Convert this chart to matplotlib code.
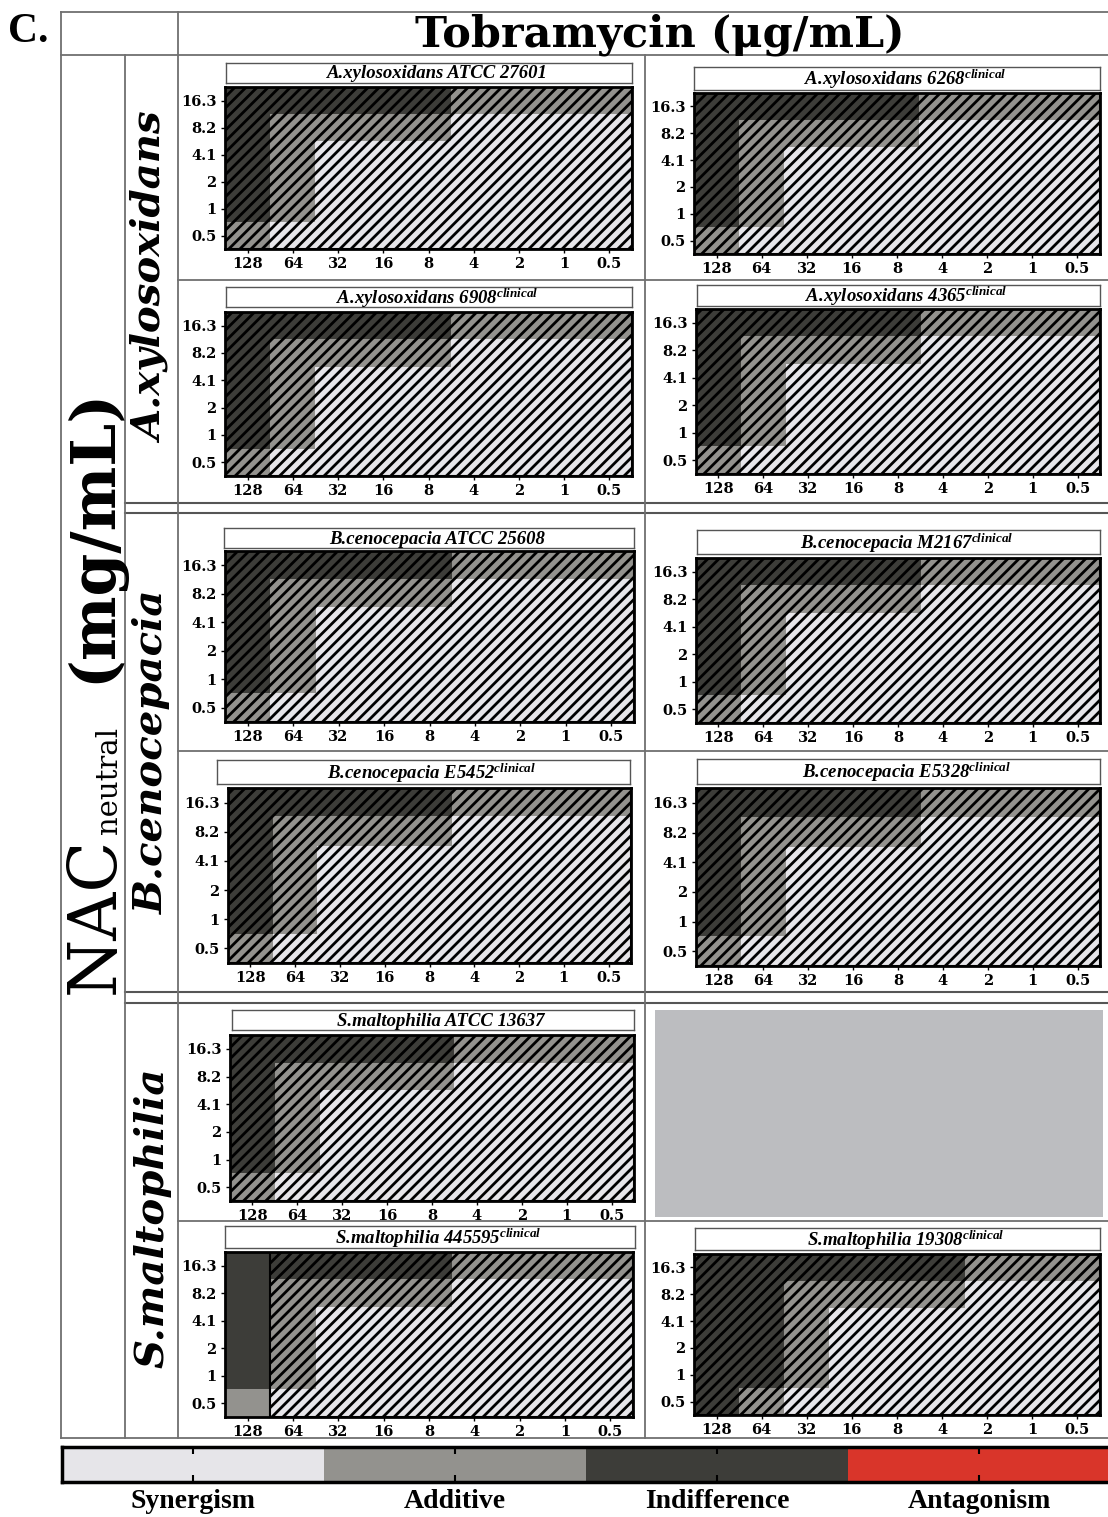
import matplotlib
matplotlib.use("Agg")
import matplotlib.pyplot as plt
from matplotlib.colors import ListedColormap, BoundaryNorm
from matplotlib.patches import Rectangle

# categories and colours of the interaction scale
categories = ["Synergism", "Additive", "Indifference", "Antagonism"]
cat_colors = ["#e6e5e9", "#93928e", "#3d3d39", "#d9352a"]

# axis tick labels
tob_ticks = ["128", "64", "32", "16", "8", "4", "2", "1", "0.5"]
nac_ticks = ["16.3", "8.2", "4.1", "2", "1", "0.5"]  # top row first

# 0 = synergism, 1 = additive, 2 = indifference, 3 = antagonism
# rows: NAC 16.3 (top) ... 0.5 (bottom); columns: tobramycin 128 ... 0.5
xyl_27601 = [[2, 2, 2, 2, 2, 1, 1, 1, 1],
             [2, 1, 1, 1, 1, 0, 0, 0, 0],
             [2, 1, 0, 0, 0, 0, 0, 0, 0],
             [2, 1, 0, 0, 0, 0, 0, 0, 0],
             [2, 1, 0, 0, 0, 0, 0, 0, 0],
             [1, 0, 0, 0, 0, 0, 0, 0, 0]]
xyl_6268 = [[2, 2, 2, 2, 2, 1, 1, 1, 1],
            [2, 1, 1, 1, 1, 0, 0, 0, 0],
            [2, 1, 0, 0, 0, 0, 0, 0, 0],
            [2, 1, 0, 0, 0, 0, 0, 0, 0],
            [2, 1, 0, 0, 0, 0, 0, 0, 0],
            [1, 0, 0, 0, 0, 0, 0, 0, 0]]
xyl_6908 = [[2, 2, 2, 2, 2, 1, 1, 1, 1],
            [2, 1, 1, 1, 1, 0, 0, 0, 0],
            [2, 1, 0, 0, 0, 0, 0, 0, 0],
            [2, 1, 0, 0, 0, 0, 0, 0, 0],
            [2, 1, 0, 0, 0, 0, 0, 0, 0],
            [1, 0, 0, 0, 0, 0, 0, 0, 0]]
xyl_4365 = [[2, 2, 2, 2, 2, 1, 1, 1, 1],
            [2, 1, 1, 1, 1, 0, 0, 0, 0],
            [2, 1, 0, 0, 0, 0, 0, 0, 0],
            [2, 1, 0, 0, 0, 0, 0, 0, 0],
            [2, 1, 0, 0, 0, 0, 0, 0, 0],
            [1, 0, 0, 0, 0, 0, 0, 0, 0]]
ceno_25608 = [[2, 2, 2, 2, 2, 1, 1, 1, 1],
              [2, 1, 1, 1, 1, 0, 0, 0, 0],
              [2, 1, 0, 0, 0, 0, 0, 0, 0],
              [2, 1, 0, 0, 0, 0, 0, 0, 0],
              [2, 1, 0, 0, 0, 0, 0, 0, 0],
              [1, 0, 0, 0, 0, 0, 0, 0, 0]]
ceno_m2167 = [[2, 2, 2, 2, 2, 1, 1, 1, 1],
              [2, 1, 1, 1, 1, 0, 0, 0, 0],
              [2, 1, 0, 0, 0, 0, 0, 0, 0],
              [2, 1, 0, 0, 0, 0, 0, 0, 0],
              [2, 1, 0, 0, 0, 0, 0, 0, 0],
              [1, 0, 0, 0, 0, 0, 0, 0, 0]]
ceno_e5452 = [[2, 2, 2, 2, 2, 1, 1, 1, 1],
              [2, 1, 1, 1, 1, 0, 0, 0, 0],
              [2, 1, 0, 0, 0, 0, 0, 0, 0],
              [2, 1, 0, 0, 0, 0, 0, 0, 0],
              [2, 1, 0, 0, 0, 0, 0, 0, 0],
              [1, 0, 0, 0, 0, 0, 0, 0, 0]]
ceno_e5328 = [[2, 2, 2, 2, 2, 1, 1, 1, 1],
              [2, 1, 1, 1, 1, 0, 0, 0, 0],
              [2, 1, 0, 0, 0, 0, 0, 0, 0],
              [2, 1, 0, 0, 0, 0, 0, 0, 0],
              [2, 1, 0, 0, 0, 0, 0, 0, 0],
              [1, 0, 0, 0, 0, 0, 0, 0, 0]]
malt_13637 = [[2, 2, 2, 2, 2, 1, 1, 1, 1],
              [2, 1, 1, 1, 1, 0, 0, 0, 0],
              [2, 1, 0, 0, 0, 0, 0, 0, 0],
              [2, 1, 0, 0, 0, 0, 0, 0, 0],
              [2, 1, 0, 0, 0, 0, 0, 0, 0],
              [1, 0, 0, 0, 0, 0, 0, 0, 0]]
malt_445595 = [[2, 2, 2, 2, 2, 1, 1, 1, 1],
               [2, 1, 1, 1, 1, 0, 0, 0, 0],
               [2, 1, 0, 0, 0, 0, 0, 0, 0],
               [2, 1, 0, 0, 0, 0, 0, 0, 0],
               [2, 1, 0, 0, 0, 0, 0, 0, 0],
               [1, 0, 0, 0, 0, 0, 0, 0, 0]]
malt_19308 = [[2, 2, 2, 2, 2, 2, 1, 1, 1],
              [2, 2, 1, 1, 1, 1, 0, 0, 0],
              [2, 2, 1, 0, 0, 0, 0, 0, 0],
              [2, 2, 1, 0, 0, 0, 0, 0, 0],
              [2, 2, 1, 0, 0, 0, 0, 0, 0],
              [2, 1, 0, 0, 0, 0, 0, 0, 0]]

strain_names = ["A.xylosoxidans ATCC 27601", "A.xylosoxidans 6268$^{clinical}$",
                "A.xylosoxidans 6908$^{clinical}$", "A.xylosoxidans 4365$^{clinical}$",
                "B.cenocepacia ATCC 25608", "B.cenocepacia M2167$^{clinical}$",
                "B.cenocepacia E5452$^{clinical}$", "B.cenocepacia E5328$^{clinical}$",
                "S.maltophilia ATCC 13637", "S.maltophilia 445595$^{clinical}$",
                "S.maltophilia 19308$^{clinical}$"]
grids = [xyl_27601, xyl_6268, xyl_6908, xyl_4365, ceno_25608, ceno_m2167,
         ceno_e5452, ceno_e5328, malt_13637, malt_445595, malt_19308]
hatch_start = [0, 0, 0, 0, 0, 0, 0, 0, 0, 1, 0]  # first hatched column

# layout in pixels: heatmap box and title box (x0, y0, x1, y1)
ax_boxes = [(225, 87, 632, 249), (694, 93, 1100, 254),
            (225, 312, 632, 476), (696, 309, 1100, 474),
            (225, 551, 634, 722), (696, 558, 1100, 723),
            (228, 788, 631, 963), (696, 788, 1100, 966),
            (230, 1035, 634, 1201), (225, 1252, 633, 1417),
            (694, 1254, 1100, 1415)]
title_boxes = [(226, 63, 632, 83), (694, 67, 1100, 90),
               (226, 287, 632, 307), (697, 285, 1100, 306),
               (224, 528, 634, 548), (697, 530, 1100, 554),
               (217, 760, 630, 784), (697, 759, 1100, 784),
               (232, 1010, 634, 1030), (225, 1226, 635, 1248),
               (695, 1228, 1100, 1250)]

plt.rcParams['hatch.linewidth'] = 2.0
plt.rcParams['mathtext.fontset'] = 'custom'
plt.rcParams['mathtext.rm'] = 'Liberation Serif'
plt.rcParams['mathtext.it'] = 'Liberation Serif:italic:bold'
plt.rcParams['mathtext.bf'] = 'Liberation Serif:bold'

W, H = 1108, 1517
fig = plt.figure(figsize=(W / 100, H / 100), dpi=100)


def rect(x0, y0, x1, y1):
    return [x0 / W, 1 - y1 / H, (x1 - x0) / W, (y1 - y0) / H]


cmap = ListedColormap(cat_colors)
norm = BoundaryNorm([-0.5, 0.5, 1.5, 2.5, 3.5], cmap.N)

# background table
bg = fig.add_axes([0, 0, 1, 1])
bg.set_xlim(0, W)
bg.set_ylim(H, 0)
bg.axis('off')
line_kw = dict(color='#707070', lw=1.3)
for y, x0 in [(12, 61), (55, 61), (1438, 61)]:
    bg.plot([x0, W], [y, y], **line_kw)
for y in [280, 751, 1221]:
    bg.plot([178, W], [y, y], **line_kw)
for y in [503, 513, 992, 1003]:
    bg.plot([125, W], [y, y], color='#555555', lw=1.5)
bg.plot([61, 61], [12, 1438], **line_kw)
bg.plot([178, 178], [12, 1438], **line_kw)
bg.plot([125, 125], [55, 1438], **line_kw)
bg.plot([645, 645], [55, 1438], **line_kw)

bg.text(8, 32, "C.", fontsize=30, fontweight='bold', family='Liberation Serif',
        va='center', ha='left')
bg.text(660, 46, "Tobramycin (μg/mL)", fontsize=31, fontweight='bold',
        family='DejaVu Serif', va='baseline', ha='center')

# left labels
bg.text(95, 915, "NAC", fontsize=48, family='DejaVu Serif', rotation=90,
        ha='center', va='center')
bg.text(109, 780, "neutral", fontsize=21, family='DejaVu Serif', rotation=90,
        ha='center', va='center')
bg.text(94, 535, "(mg/mL)", fontsize=44, fontweight='bold', family='DejaVu Serif',
        rotation=90, ha='center', va='center')
for name, yc in [("A.xylosoxidans", 278), ("B.cenocepacia", 752),
                 ("S.maltophilia", 1218)]:
    bg.text(152, yc, name, fontsize=29, fontweight='bold', style='italic',
            family='DejaVu Serif', rotation=90, ha='center', va='center')

# empty placeholder panel
bg.add_patch(Rectangle((655, 1010), 448, 207, color='#bcbdc0', lw=0))

for grid, name, hs, abox, tbox in zip(grids, strain_names, hatch_start,
                                      ax_boxes, title_boxes):
    ax = fig.add_axes(rect(*abox))
    ax.imshow(grid, cmap=cmap, norm=norm, aspect='auto', interpolation='nearest')
    ax.add_patch(Rectangle((hs - 0.5, -0.5), 9 - hs, 6, fill=False, hatch='///',
                           edgecolor='black', lw=1.5))
    ax.set_xticks(range(len(tob_ticks)))
    ax.set_xticklabels(tob_ticks)
    ax.set_yticks(range(len(nac_ticks)))
    ax.set_yticklabels(nac_ticks)
    ax.tick_params(length=3, width=1, pad=3, labelsize=10.5)
    for lbl in ax.get_xticklabels() + ax.get_yticklabels():
        lbl.set_family('DejaVu Serif')
        lbl.set_fontweight('bold')
    for s in ax.spines.values():
        s.set_linewidth(2)

    tax = fig.add_axes(rect(*tbox))
    tax.set_xticks([])
    tax.set_yticks([])
    for s in tax.spines.values():
        s.set_color('#555555')
        s.set_linewidth(1)
    tax.text(0.52, 0.45, name, ha='center', va='center', fontsize=13.5,
             family='Liberation Serif', style='italic', fontweight='bold',
             transform=tax.transAxes)

# category scale bar
cax = fig.add_axes(rect(62, 1447, 1110, 1482))
cax.imshow([[0, 1, 2, 3]], cmap=cmap, norm=norm, aspect='auto')
cax.set_yticks([])
cax.set_xticks(range(len(categories)))
cax.set_xticklabels([])
cax.tick_params(axis='x', direction='in', top=True, length=5, width=1.5)
for s in cax.spines.values():
    s.set_linewidth(2.5)
for i, cat in enumerate(categories):
    xc = 62 + (i + 0.5) * (1110 - 62) / len(categories)
    bg.text(xc, 1502, cat, fontsize=20, fontweight='bold', family='Liberation Serif',
            ha='center', va='center')

fig.savefig("out.png", dpi=100)
